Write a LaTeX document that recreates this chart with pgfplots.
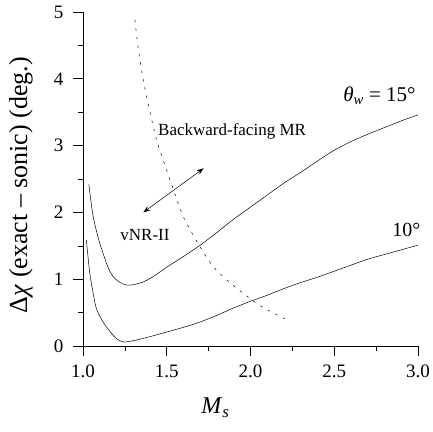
\documentclass[border=0pt]{standalone}
\usepackage{pgfplots}
\pgfplotsset{compat=1.18}
\usepackage{fontspec}
\setmainfont{Liberation Serif}
\usetikzlibrary{arrows.meta}
\begin{document}
\begin{tikzpicture}
\begin{axis}[
  scale only axis, width=335pt, height=334pt,
  xmin=1.0, xmax=3.0, ymin=0, ymax=5,
  axis x line=bottom, axis y line=left,
  axis line style={-, line width=0.6pt},
  xtick={1.0,1.5,2.0,2.5,3.0},
  xticklabels={1.0,1.5,2.0,2.5,3.0},
  ytick={0,1,2,3,4,5},
  minor xtick={1.25,1.75,2.25,2.75},
  minor ytick={0.5,1.5,2.5,3.5,4.5},
  tick align=outside,
  major tick length=10pt, minor tick length=5pt,
  tick style={line width=0.6pt, black},
  /pgf/number format/assume math mode=true,
  tick label style={font=\fontsize{19}{21}\selectfont},
  xticklabel style={yshift=-5pt},
  yticklabel style={xshift=-6pt},
  xlabel={\fontsize{24}{26}\selectfont\textit{M}\textsubscript{\textit{s}}},
  ylabel={\fontsize{26}{28}\selectfont Δ\textit{χ} (exact – sonic) (deg.)},
  xlabel style={at={(axis description cs:0.395,-0.185)}, anchor=center},
  ylabel style={at={(axis description cs:-0.185,0.482)}, anchor=center},
  clip=false,
]
% theta_w = 15 deg
\addplot[black, line width=0.5pt, smooth, tension=0.5] coordinates {
 (1.035,2.42) (1.06,1.95) (1.10,1.54) (1.16,1.12) (1.21,0.97) (1.27,0.91)
 (1.35,0.95) (1.42,1.04) (1.5,1.18) (1.6,1.34) (1.7,1.51) (1.8,1.70)
 (1.9,1.90) (2.0,2.08) (2.1,2.26) (2.2,2.44) (2.3,2.60) (2.4,2.77)
 (2.5,2.93) (2.6,3.06) (2.7,3.17) (2.8,3.27) (2.9,3.37) (3.0,3.46)};
% theta_w = 10 deg
\addplot[black, line width=0.5pt, smooth, tension=0.5] coordinates {
 (1.02,1.59) (1.04,1.10) (1.06,0.80) (1.08,0.56) (1.12,0.36) (1.16,0.22)
 (1.20,0.11) (1.24,0.06) (1.30,0.08) (1.40,0.14) (1.5,0.21) (1.6,0.28)
 (1.7,0.36) (1.8,0.46) (1.9,0.57) (2.0,0.67) (2.1,0.76) (2.2,0.86)
 (2.3,0.95) (2.4,1.03) (2.5,1.12) (2.6,1.21) (2.7,1.30) (2.8,1.37)
 (2.9,1.44) (3.0,1.51)};
% boundary
\addplot[black, line width=0.5pt, dash pattern=on 2.5pt off 6pt, smooth] coordinates {
 (1.31,4.88) (1.33,4.45) (1.36,3.98) (1.40,3.50) (1.44,3.08) (1.49,2.70)
 (1.54,2.34) (1.60,1.93) (1.70,1.48) (1.78,1.18) (1.90,0.90) (2.06,0.60)
 (2.22,0.39)};
\draw[{Stealth[length=7pt,width=5pt]}-{Stealth[length=7pt,width=5pt]}, line width=0.5pt]
 (axis cs:1.36,2.0) -- (axis cs:1.72,2.66);
\node[font=\fontsize{17}{19}\selectfont] at (axis cs:1.89,3.22) {Backward-facing MR};
\node[font=\fontsize{17}{19}\selectfont] at (axis cs:1.37,1.66) {vNR-II};
\node[font=\fontsize{21}{23}\selectfont] at (axis cs:2.77,3.74) {\textit{θ}\textsubscript{\textit{w}} = 15°};
\node[font=\fontsize{20}{22}\selectfont] at (axis cs:2.93,1.73) {10°};
\end{axis}
\pgfresetboundingbox
\path[use as bounding box] ([shift={(-83pt,-85pt)}]current axis.origin) rectangle ++(433pt,431pt);
\end{tikzpicture}
\end{document}
